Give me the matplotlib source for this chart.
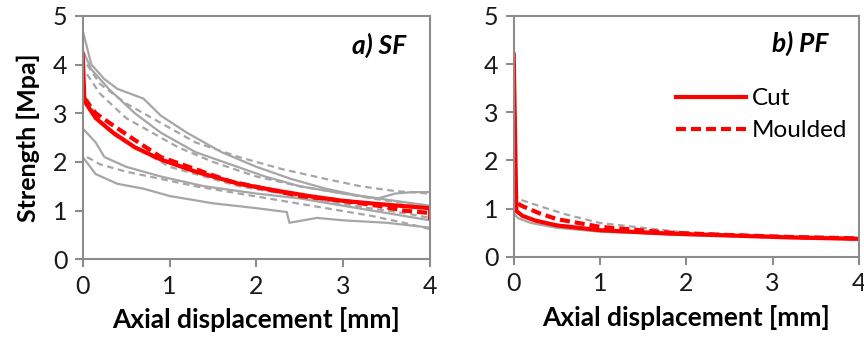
import matplotlib
matplotlib.use("Agg")
import matplotlib.pyplot as plt

plt.rcParams['font.family'] = ['Lato', 'DejaVu Sans']

GRAY = '#a6a6a6'
RED = '#ff0000'
SPINE = '#8c8c8c'

# ---- panel a) SF : individual specimens (gray) and means (red) ----
sf_cut_x = [
    [0, 0.1, 0.25, 0.4, 0.7, 0.9, 1.2, 1.6, 2.0, 2.4, 2.8, 3.2, 3.6, 4.0],
    [0, 0.1, 0.3, 0.6, 0.9, 1.3, 1.7, 2.1, 2.5, 3.0, 3.4, 3.6, 3.8, 4.0],
    [0.02, 0.15, 0.25, 0.5, 0.9, 1.4, 2.0, 2.5, 3.0, 3.5, 4.0],
    [0, 0.15, 0.4, 0.7, 1.0, 1.5, 2.0, 2.35, 2.38, 2.7, 3.0, 3.5, 4.0],
]
sf_cut_y = [
    [4.7, 4.0, 3.7, 3.5, 3.3, 2.95, 2.6, 2.2, 1.9, 1.65, 1.45, 1.3, 1.2, 1.1],
    [4.3, 3.9, 3.5, 3.0, 2.6, 2.2, 1.95, 1.7, 1.5, 1.35, 1.25, 1.35, 1.38, 1.38],
    [2.65, 2.4, 2.1, 1.9, 1.7, 1.5, 1.35, 1.25, 1.1, 0.95, 0.8],
    [2.1, 1.75, 1.55, 1.45, 1.3, 1.15, 1.05, 0.97, 0.75, 0.85, 0.8, 0.75, 0.65],
]
sf_mould_x = [
    [0.05, 0.2, 0.5, 0.9, 1.3, 1.8, 2.3, 2.8, 3.2, 3.6, 4.0],
    [0.05, 0.2, 0.5, 0.8, 1.1, 1.5, 2.0, 2.5, 3.0, 3.5, 4.0],
    [0.05, 0.2, 0.4, 0.7, 1.0, 1.4, 1.8, 2.3, 2.8, 3.3, 3.7, 4.0],
    [0.05, 0.2, 0.5, 0.9, 1.3, 1.8, 2.3, 2.8, 3.3, 3.7, 4.0],
]
sf_mould_y = [
    [4.0, 3.6, 3.2, 2.8, 2.4, 2.1, 1.85, 1.65, 1.5, 1.4, 1.35],
    [3.8, 3.4, 2.9, 2.6, 2.3, 2.0, 1.7, 1.5, 1.35, 1.2, 1.1],
    [3.3, 2.8, 2.5, 2.2, 1.9, 1.7, 1.5, 1.35, 1.2, 1.05, 0.95, 0.85],
    [2.1, 1.95, 1.8, 1.65, 1.5, 1.35, 1.2, 1.05, 0.9, 0.75, 0.62],
]
sf_cut_mean_x = [0, 0.02, 0.15, 0.35, 0.6, 0.9, 1.3, 1.8, 2.2, 2.6, 3.0, 3.5, 4.0, 4.0]
sf_cut_mean_y = [4.2, 3.25, 2.9, 2.6, 2.3, 2.05, 1.8, 1.55, 1.42, 1.3, 1.2, 1.12, 1.05, 0.85]
sf_mould_mean_x = [0.02, 0.15, 0.35, 0.6, 0.9, 1.3, 1.7, 2.1, 2.5, 3.0, 3.4, 3.7, 4.0]
sf_mould_mean_y = [3.3, 3.0, 2.75, 2.45, 2.1, 1.85, 1.6, 1.45, 1.3, 1.2, 1.1, 1.0, 0.95]

# ---- panel b) PF ----
pf_cut_x = [[0, 0.05, 0.2, 0.5, 1.0, 2.0, 3.0, 4.0]]
pf_cut_y = [[0.9, 0.8, 0.7, 0.6, 0.52, 0.45, 0.41, 0.37]]
pf_mould_x = [[0, 0.03, 0.05, 0.3, 0.6, 1.0, 2.0, 3.0, 4.0]]
pf_mould_y = [[4.35, 1.3, 1.2, 1.05, 0.88, 0.7, 0.5, 0.43, 0.39]]
pf_cut_mean_x = [0, 0.03, 0.1, 0.25, 0.5, 1.0, 1.8, 2.5, 3.2, 4.0]
pf_cut_mean_y = [4.2, 0.95, 0.85, 0.75, 0.65, 0.55, 0.48, 0.44, 0.4, 0.37]
pf_mould_mean_x = [0.05, 0.1, 0.3, 0.5, 1.0, 1.8, 2.5, 3.2, 4.0]
pf_mould_mean_y = [1.1, 1.05, 0.9, 0.78, 0.62, 0.5, 0.45, 0.41, 0.38]

x_ticks = [0, 1, 2, 3, 4]
y_ticks = [0, 1, 2, 3, 4, 5]


def style_axes(ax):
    ax.set_xlim(0, 4)
    ax.set_ylim(0, 5)
    ax.set_xticks(x_ticks)
    ax.set_yticks(y_ticks)
    for s in ax.spines.values():
        s.set_color(SPINE)
        s.set_linewidth(1.5)
    ax.tick_params(direction='out', length=6, width=1.5, color=SPINE,
                   labelsize=18, labelcolor='#1a1a1a', pad=5)
    ax.set_xlabel('Axial displacement [mm]', fontsize=19, fontweight='bold',
                  labelpad=7)


fig = plt.figure(figsize=(8.64, 3.4), dpi=100)
ax1 = fig.add_axes([0.0957, 0.2374, 0.402, 0.716])
ax2 = fig.add_axes([0.5946, 0.245, 0.3996, 0.708])

for xs, ys in zip(sf_cut_x, sf_cut_y):
    ax1.plot(xs, ys, color=GRAY, lw=1.6)
for xs, ys in zip(sf_mould_x, sf_mould_y):
    ax1.plot(xs, ys, color=GRAY, lw=1.6, ls=(0, (3, 2)))
ax1.plot(sf_cut_mean_x, sf_cut_mean_y, color=RED, lw=3)
ax1.plot(sf_mould_mean_x, sf_mould_mean_y, color=RED, lw=3, ls=(0, (2.4, 1.2)))
style_axes(ax1)
ax1.set_ylabel('Strength [Mpa]', fontsize=18, fontweight='bold', labelpad=9)
ax1.text(0.93, 0.88, 'a) SF', transform=ax1.transAxes, ha='right', va='center',
         fontsize=19, fontweight='bold', fontstyle='italic')

for xs, ys in zip(pf_cut_x, pf_cut_y):
    ax2.plot(xs, ys, color=GRAY, lw=1.6)
for xs, ys in zip(pf_mould_x, pf_mould_y):
    ax2.plot(xs, ys, color=GRAY, lw=1.6, ls=(0, (3, 2)))
ax2.plot(pf_cut_mean_x, pf_cut_mean_y, color=RED, lw=3, label='Cut')
ax2.plot(pf_mould_mean_x, pf_mould_mean_y, color=RED, lw=3, ls=(0, (2.4, 1.2)),
         label='Moulded')
style_axes(ax2)
ax2.text(0.91, 0.888, 'b) PF', transform=ax2.transAxes, ha='right', va='center',
         fontsize=19, fontweight='bold', fontstyle='italic')
ax2.legend(loc='upper right', bbox_to_anchor=(1.03, 0.79), frameon=False,
           fontsize=17.5, handlelength=2.9, handletextpad=0.25, labelspacing=0.45)

fig.savefig('out.png', dpi=100)
